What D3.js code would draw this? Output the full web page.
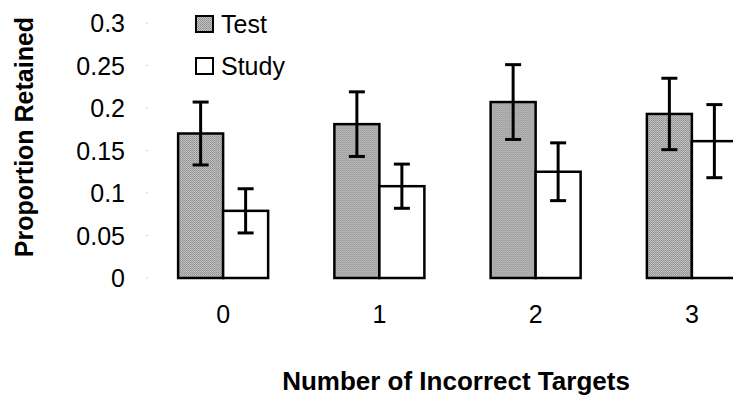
<!DOCTYPE html>
<html lang="en">
<head>
    <meta charset="UTF-8">
    <title>proportion retained</title>
    <script src="https://cdnjs.cloudflare.com/ajax/libs/d3/7.8.5/d3.min.js"></script>
    <style>
        body { margin: 0; background: #fff; }
        svg text { font-family: "Liberation Sans", Arial, sans-serif; fill: #000; }
        .tick-label { font-size: 25px; }
        .x-title { font-size: 26px; font-weight: bold; }
        .y-title { font-size: 25px; font-weight: bold; }
    </style>
</head>
<body>
    <svg class="chart"></svg>
    <script>
        const categories = ['0', '1', '2', '3'];
        const seriesNames = ['Test', 'Study'];
        const testValues = [0.170, 0.181, 0.207, 0.193];
        const testErrors = [0.037, 0.038, 0.044, 0.042];
        const studyValues = [0.079, 0.108, 0.125, 0.161];
        const studyErrors = [0.026, 0.026, 0.034, 0.043];
        const yTicks = [0, 0.05, 0.1, 0.15, 0.2, 0.25, 0.3];
        const yTickLabels = ['0', '0.05', '0.1', '0.15', '0.2', '0.25', '0.3'];

        const width = 733, height = 399;

        const svg = d3.select('.chart')
            .attr('width', width)
            .attr('height', height);

        // stipple fill for the Test bars
        const pat = svg.append('defs').append('pattern')
            .attr('id', 'stipple')
            .attr('width', 2).attr('height', 2)
            .attr('patternUnits', 'userSpaceOnUse');
        pat.append('rect').attr('width', 2).attr('height', 2).attr('fill', '#c4c4c4');
        pat.append('rect').attr('width', 1).attr('height', 1).attr('fill', '#8a8a8a');
        pat.append('rect').attr('x', 1).attr('y', 1).attr('width', 1).attr('height', 1).attr('fill', '#9a9a9a');

        const x = d3.scaleBand()
            .domain(categories)
            .range([145, 770])
            .paddingInner(0)
            .paddingOuter(0);

        const barW = 45;

        const y = d3.scaleLinear()
            .domain([0, 0.3])
            .range([278, 23]);

        const data = categories.map((c, i) => ({
            cat: c,
            vals: [
                { key: 'Test', v: testValues[i], e: testErrors[i] },
                { key: 'Study', v: studyValues[i], e: studyErrors[i] }
            ]
        }));

        // faint axis ticks
        svg.append('g')
            .selectAll('line')
            .data(yTicks)
            .enter().append('line')
            .attr('x1', 146).attr('x2', 148)
            .attr('y1', d => y(d)).attr('y2', d => y(d))
            .attr('stroke', '#ccc');

        // y tick labels
        svg.append('g')
            .selectAll('text')
            .data(yTicks)
            .enter().append('text')
            .attr('class', 'tick-label')
            .attr('x', 125)
            .attr('y', d => y(d))
            .attr('dy', '0.36em')
            .attr('text-anchor', 'end')
            .text((d, i) => yTickLabels[i]);

        const group = svg.append('g')
            .selectAll('g')
            .data(data)
            .enter().append('g')
            .attr('transform', d => `translate(${x(d.cat) + x.bandwidth() / 2}, 0)`);

        const bar = group.selectAll('g')
            .data(d => d.vals)
            .enter().append('g')
            .attr('transform', (d, i) => `translate(${i === 0 ? -barW : 0}, 0)`);

        bar.append('rect')
            .attr('x', 0)
            .attr('y', d => y(d.v))
            .attr('width', barW)
            .attr('height', d => y(0) - y(d.v))
            .attr('fill', d => d.key === 'Test' ? 'url(#stipple)' : '#fff')
            .attr('stroke', '#000')
            .attr('stroke-width', 2.5);

        // error bars
        bar.append('line')
            .attr('x1', barW / 2).attr('x2', barW / 2)
            .attr('y1', d => y(d.v + d.e)).attr('y2', d => y(d.v - d.e))
            .attr('stroke', '#000').attr('stroke-width', 3);
        bar.append('line')
            .attr('x1', barW / 2 - 8).attr('x2', barW / 2 + 8)
            .attr('y1', d => y(d.v + d.e)).attr('y2', d => y(d.v + d.e))
            .attr('stroke', '#000').attr('stroke-width', 3);
        bar.append('line')
            .attr('x1', barW / 2 - 8).attr('x2', barW / 2 + 8)
            .attr('y1', d => y(d.v - d.e)).attr('y2', d => y(d.v - d.e))
            .attr('stroke', '#000').attr('stroke-width', 3);

        // x tick labels
        svg.append('g')
            .selectAll('text')
            .data(categories)
            .enter().append('text')
            .attr('class', 'tick-label')
            .attr('x', d => x(d) + x.bandwidth() / 2)
            .attr('y', 323)
            .attr('text-anchor', 'middle')
            .text(d => d);

        // axis titles
        svg.append('text')
            .attr('class', 'x-title')
            .attr('x', 456)
            .attr('y', 390)
            .attr('text-anchor', 'middle')
            .text('Number of Incorrect Targets');

        svg.append('text')
            .attr('class', 'y-title')
            .attr('transform', 'translate(33, 137) rotate(-90)')
            .attr('text-anchor', 'middle')
            .text('Proportion Retained');

        // legend
        const legend = svg.append('g')
            .selectAll('g')
            .data(seriesNames)
            .enter().append('g')
            .attr('transform', (d, i) => `translate(196, ${16 + i * 42})`);

        legend.append('rect')
            .attr('width', 17).attr('height', 16)
            .attr('fill', d => d === 'Test' ? 'url(#stipple)' : '#fff')
            .attr('stroke', '#000')
            .attr('stroke-width', 2);

        legend.append('text')
            .attr('class', 'tick-label')
            .attr('x', 25)
            .attr('y', 17)
            .text(d => d);
    </script>
</body>
</html>
